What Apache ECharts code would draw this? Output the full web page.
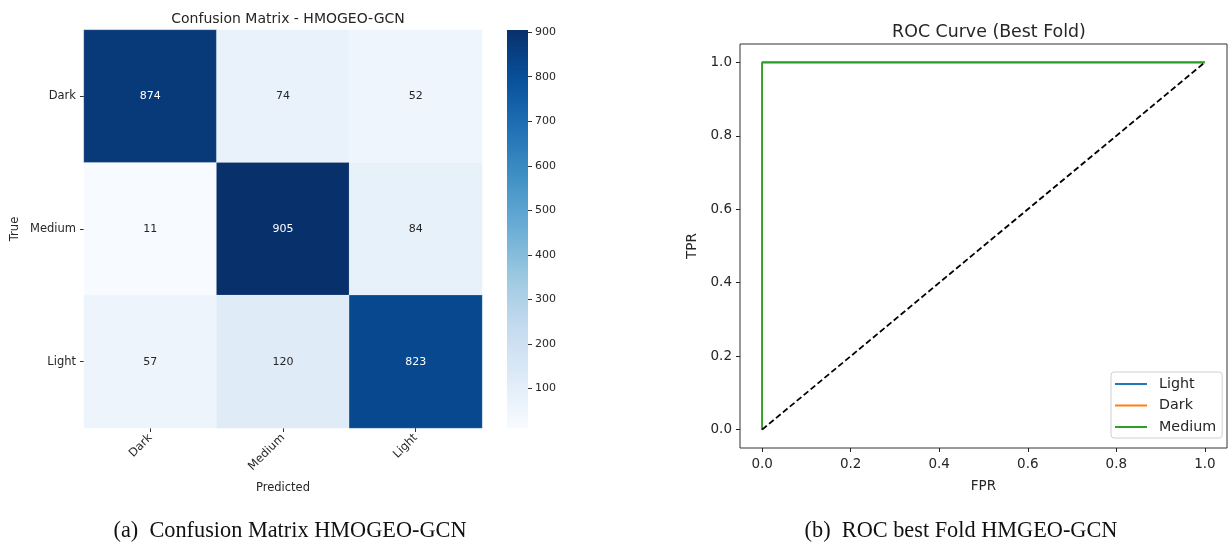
<!DOCTYPE html>
<html>
<head>
<meta charset="utf-8">
<script src="https://cdn.jsdelivr.net/npm/echarts@6/dist/echarts.min.js"></script>
<style>
html,body{margin:0;padding:0;background:#fff;}
#c{width:1228px;height:544px;}
</style>
</head>
<body>
<div id="c"></div>
<script>
// ---- data ----
var categories = ['Dark', 'Medium', 'Light'];
var matrixDark = [874, 74, 52];
var matrixMedium = [11, 905, 84];
var matrixLight = [57, 120, 823];
var colorbarTicks = [100, 200, 300, 400, 500, 600, 700, 800, 900];
var rocTicks = [0, 0.2, 0.4, 0.6, 0.8, 1.0];
var fprLight = [0, 0, 1];
var tprLight = [0, 1, 1];
var fprDark = [0, 0, 1];
var tprDark = [0, 1, 1];
var fprMedium = [0, 0, 1];
var tprMedium = [0, 1, 1];
var chanceX = [0, 1];
var chanceY = [0, 1];
var blues = ['#f7fbff', '#deebf7', '#c6dbef', '#9ecae1', '#6baed6', '#4292c6', '#2171b5', '#08519c', '#08306b'];

var rows = [matrixDark, matrixMedium, matrixLight];
var vmin = Math.min.apply(null, rows.map(function(r){return Math.min.apply(null, r);}));
var vmax = Math.max.apply(null, rows.map(function(r){return Math.max.apply(null, r);}));
var heatData = [];
rows.forEach(function(r, yi){
  r.forEach(function(v, xi){
    heatData.push({value: [xi, yi, v], label: {color: v > (vmin + vmax) / 2 ? '#ffffff' : '#262626'}});
  });
});
function pairs(xs, ys){ return xs.map(function(x, i){ return [x, ys[i]]; }); }
// colour-bar gradient (top = max)
var cbStops = blues.map(function(c, i){ return {offset: 1 - i / (blues.length - 1), color: c}; }).reverse();

var FONT = 'DejaVu Sans';
var TXT = '#262626';
var chart = echarts.init(document.getElementById('c'));
chart.setOption({
  animation: false,
  textStyle: {fontFamily: FONT},
  title: [
    {text: 'Confusion Matrix - HMOGEO-GCN', left: 283, top: 7, textAlign: 'center',
     textStyle: {fontFamily: FONT, fontSize: 14, fontWeight: 'normal', color: TXT}},
    {text: 'ROC Curve (Best Fold)', left: 984, top: 19, textAlign: 'center',
     textStyle: {fontFamily: FONT, fontSize: 17.4, fontWeight: 'normal', color: TXT}},
    {text: '(a)\u2002Confusion Matrix HMOGEO-GCN', left: 285, top: 515, textAlign: 'center',
     textStyle: {fontFamily: 'Liberation Serif', fontSize: 22.3, fontWeight: 'normal', color: '#111'}},
    {text: '(b)\u2002ROC best Fold HMGEO-GCN', left: 956, top: 515, textAlign: 'center',
     textStyle: {fontFamily: 'Liberation Serif', fontSize: 22.3, fontWeight: 'normal', color: '#111'}}
  ],
  grid: [
    {left: 84, top: 30, width: 398, height: 398},
    {left: 740, right: 1, top: 44, bottom: 96, show: true, borderColor: '#333', borderWidth: 1, backgroundColor: 'transparent'},
    {left: 507, top: 30, width: 21, height: 398}
  ],
  graphic: [
    {type: 'rect', left: 507, top: 30, shape: {width: 21, height: 398}, silent: true, z: -1,
     style: {fill: new echarts.graphic.LinearGradient(0, 0, 0, 1, cbStops)}}
  ],
  xAxis: [
    {gridIndex: 0, type: 'category', data: categories, name: 'Predicted', nameLocation: 'middle', nameGap: 54,
     nameTextStyle: {fontSize: 11.5, color: TXT},
     axisLine: {show: false}, axisTick: {show: true, alignWithLabel: true, length: 4, lineStyle: {color: '#333'}},
     axisLabel: {rotate: 45, fontSize: 11.5, color: TXT, margin: 8}, splitLine: {show: false}},
    {gridIndex: 1, type: 'value', min: -0.05, max: 1.05, name: 'FPR', nameLocation: 'middle', nameGap: 31,
     nameTextStyle: {fontSize: 13.5, color: TXT},
     axisLine: {show: false, onZero: false},
     axisTick: {show: true, length: 4, customValues: rocTicks, lineStyle: {color: '#222'}},
     axisLabel: {customValues: rocTicks, fontSize: 13.5, color: TXT, margin: 9, formatter: function(v){return v.toFixed(1);}},
     splitLine: {show: false}},
    {gridIndex: 2, type: 'value', show: false, min: 0, max: 1, axisLine: {onZero: false}}
  ],
  yAxis: [
    {gridIndex: 0, type: 'category', data: categories, inverse: true, name: 'True', nameLocation: 'middle', nameGap: 63,
     nameTextStyle: {fontSize: 11.5, color: TXT},
     axisLine: {show: false}, axisTick: {show: true, alignWithLabel: true, length: 4, lineStyle: {color: '#333'}},
     axisLabel: {fontSize: 11.5, color: TXT, margin: 8}, splitLine: {show: false}},
    {gridIndex: 1, type: 'value', min: -0.05, max: 1.05, name: 'TPR', nameLocation: 'middle', nameGap: 41,
     nameTextStyle: {fontSize: 13.5, color: TXT},
     axisLine: {show: false, onZero: false},
     axisTick: {show: true, length: 4, customValues: rocTicks, lineStyle: {color: '#222'}},
     axisLabel: {customValues: rocTicks, fontSize: 13.5, color: TXT, margin: 8, formatter: function(v){return v.toFixed(1);}},
     splitLine: {show: false}},
    {gridIndex: 2, type: 'value', position: 'right', min: vmin, max: vmax,
     axisLine: {show: false, onZero: false},
     axisTick: {show: true, length: 4, customValues: colorbarTicks, lineStyle: {color: '#333'}},
     axisLabel: {customValues: colorbarTicks, fontSize: 11, color: TXT, margin: 7},
     splitLine: {show: false}}
  ],
  visualMap: {
    type: 'continuous', seriesIndex: 0, min: vmin, max: vmax, show: false,
    inRange: {color: blues}
  },
  legend: {
    orient: 'vertical', left: 1111, top: 372, padding: [5, 6, 4, 4], itemGap: 7.5,
    backgroundColor: '#fff', borderColor: '#d0d0d0', borderWidth: 1, borderRadius: 3,
    itemWidth: 32, itemHeight: 2, icon: 'rect',
    textStyle: {fontSize: 14.3, color: TXT, fontFamily: FONT, padding: [0, 0, 0, 7]},
    data: ['Light', 'Dark', 'Medium']
  },
  series: [
    {type: 'heatmap', xAxisIndex: 0, yAxisIndex: 0, data: heatData,
     label: {show: true, fontSize: 11, fontFamily: FONT},
     itemStyle: {borderColor: 'rgba(255,255,255,0.35)', borderWidth: 0.5},
     emphasis: {disabled: true}},
    {type: 'line', name: 'Light', xAxisIndex: 1, yAxisIndex: 1, data: pairs(fprLight, tprLight), showSymbol: false, symbol: 'none',
     lineStyle: {color: '#1f77b4', width: 1.6}, itemStyle: {color: '#1f77b4'}},
    {type: 'line', name: 'Dark', xAxisIndex: 1, yAxisIndex: 1, data: pairs(fprDark, tprDark), showSymbol: false, symbol: 'none',
     lineStyle: {color: '#ff7f0e', width: 1.6}, itemStyle: {color: '#ff7f0e'}},
    {type: 'line', name: 'Medium', xAxisIndex: 1, yAxisIndex: 1, data: pairs(fprMedium, tprMedium), showSymbol: false, symbol: 'none',
     lineStyle: {color: '#2ca02c', width: 1.6}, itemStyle: {color: '#2ca02c'}},
    {type: 'line', name: 'chance', xAxisIndex: 1, yAxisIndex: 1, data: pairs(chanceX, chanceY), showSymbol: false, symbol: 'none',
     lineStyle: {color: '#000', width: 1.8, type: [6, 3]}},
    {type: 'line', name: 'cb', xAxisIndex: 2, yAxisIndex: 2, data: [], silent: true}
  ]
});
</script>
</body>
</html>
